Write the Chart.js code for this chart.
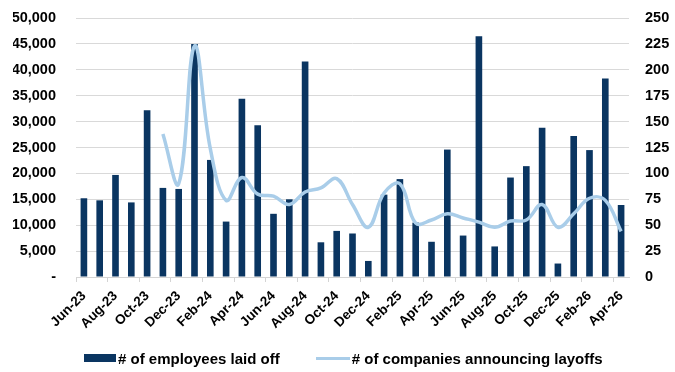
<!DOCTYPE html>
<html>
<head>
<meta charset="utf-8">
<script src="https://cdn.jsdelivr.net/npm/chart.js@4/dist/chart.umd.min.js"></script>
<style>
  html, body { margin: 0; padding: 0; background: #fff; }
  #wrap { position: relative; width: 675px; height: 372px; }
  #legend {
    position: absolute; left: 84px; top: 349px; height: 18px;
    display: flex; align-items: center;
    font: bold 15px "Liberation Sans", Arial, sans-serif; color: #000;
  }
  .item { display: flex; align-items: center; }
  .box { width: 32px; height: 8px; background: #0a3561; margin-right: 2px; }
  .ln { width: 34px; height: 3px; background: #a9cde9; margin-left: 36px; margin-right: 2px; }
</style>
</head>
<body>
<div id="wrap">
  <canvas id="myChart" width="675" height="372"></canvas>
  <div id="legend">
    <div class="item"><span class="box"></span># of employees laid off</div>
    <div class="item"><span class="ln"></span># of companies announcing layoffs</div>
  </div>
</div>
<script>
var months = ['Jun-23','Jul-23','Aug-23','Sep-23','Oct-23','Nov-23','Dec-23','Jan-24','Feb-24','Mar-24',
  'Apr-24','May-24','Jun-24','Jul-24','Aug-24','Sep-24','Oct-24','Nov-24','Dec-24','Jan-25',
  'Feb-25','Mar-25','Apr-25','May-25','Jun-25','Jul-25','Aug-25','Sep-25','Oct-25','Nov-25',
  'Dec-25','Jan-26','Feb-26','Mar-26','Apr-26'];

var employees = [15200,14800,19700,14400,32200,17200,17000,45000,22600,10700,
  34400,29300,12200,15000,41600,6700,8900,8400,3100,15900,
  18900,10500,6800,24600,8000,46500,5900,19200,21400,28800,
  2600,27200,24500,38300,13900];

var companies = [null,null,null,null,null,138,90,223,124,74,
  96,80,78,70,82,86,95,70,48,81,
  90,52,55,61,57,53,48,54,55,70,
  48,61,76,74,44];

var leftTicks = [0,5000,10000,15000,20000,25000,30000,35000,40000,45000,50000];
var rightTicks = [0,25,50,75,100,125,150,175,200,225,250];

var tickFont = { family: 'Liberation Sans', size: 14.5, weight: 'bold' };

const ctx = document.getElementById('myChart');

new Chart(ctx, {
  type: 'bar',
  data: {
    labels: months,
    datasets: [{
      type: 'line',
      label: '# of companies announcing layoffs',
      data: companies,
      yAxisID: 'y1',
      borderColor: '#a9cde9',
      borderWidth: 3.5,
      pointRadius: 0,
      tension: 0.4,
      order: 0
    }, {
      label: '# of employees laid off',
      data: employees,
      yAxisID: 'y',
      backgroundColor: '#0a3561',
      barPercentage: 0.42,
      categoryPercentage: 1,
      order: 1
    }]
  },
  options: {
    responsive: false,
    animation: false,
    devicePixelRatio: 1,
    layout: { padding: { left: 13, right: 5, top: 18, bottom: 35 } },
    plugins: {
      legend: { display: false },
      tooltip: { enabled: false }
    },
    scales: {
      x: {
        // keep the rotated first label from pushing the plot right
        afterFit: function(s) { s.paddingLeft = 0; s.paddingRight = 0; s.height = 60; },
        grid: {
          drawOnChartArea: false,
          tickLength: 5,
          color: function(c) { return c.index % 2 === 0 ? '#d4d4d4' : 'rgba(0,0,0,0)'; }
        },
        border: { color: '#d4d4d4' },
        ticks: {
          autoSkip: false,
          maxRotation: 45,
          minRotation: 45,
          padding: 6,
          color: '#000',
          font: { family: 'Liberation Sans', size: 13.5, weight: 'bold' },
          callback: function(v, i) { return i % 2 === 0 ? months[i] : ''; }
        }
      },
      y: {
        position: 'left',
        min: 0,
        max: 50000,
        afterBuildTicks: function(s) { s.ticks = leftTicks.map(function(v) { return { value: v }; }); },
        afterFit: function(s) { s.width = 63; s.paddingTop = 0; s.paddingBottom = 0; },
        grid: { color: '#d9d9d9', drawTicks: false },
        border: { display: false },
        ticks: {
          padding: 20,
          color: '#000',
          font: tickFont,
          callback: function(v) { return v === 0 ? '-' : v.toLocaleString('en-US'); }
        }
      },
      y1: {
        position: 'right',
        min: 0,
        max: 250,
        afterBuildTicks: function(s) { s.ticks = rightTicks.map(function(v) { return { value: v }; }); },
        afterFit: function(s) { s.width = 41; s.paddingTop = 0; s.paddingBottom = 0; },
        grid: { display: false, drawTicks: false },
        border: { display: false },
        ticks: { padding: 16, color: '#000', font: tickFont }
      }
    }
  }
});
</script>
</body>
</html>
